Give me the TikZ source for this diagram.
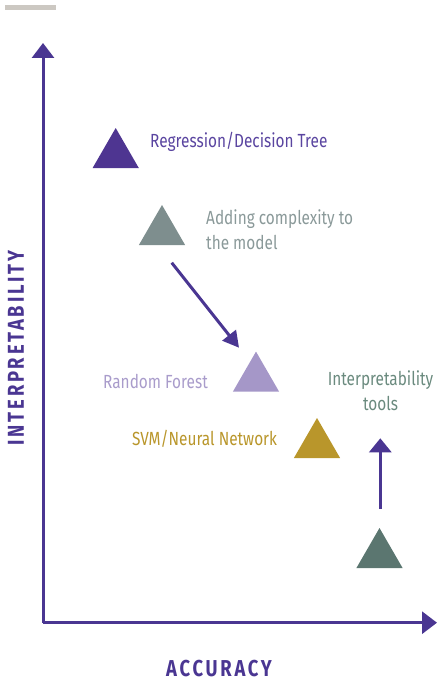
\documentclass[tikz,border=0pt]{standalone}
\usepackage{fontspec}
\setmainfont{Fira Sans}[FakeStretch=0.81]
\newfontfamily\axisfont{Fira Sans}[FakeStretch=0.8, LetterSpace=12]
\usetikzlibrary{arrows.meta,shapes.geometric}

\definecolor{axispurple}{HTML}{4A3692}
\definecolor{regpurple}{HTML}{4E3591}
\definecolor{regtext}{HTML}{5A45A0}
\definecolor{complexgray}{HTML}{7E8E8E}
\definecolor{complextext}{HTML}{8A9999}
\definecolor{forestlav}{HTML}{A597C8}
\definecolor{forestext}{HTML}{A99CCB}
\definecolor{svmgold}{HTML}{B9962B}
\definecolor{toolteal}{HTML}{5B7670}
\definecolor{tooltext}{HTML}{6A8A7E}
\definecolor{barstone}{HTML}{CCC8C2}

\begin{document}
\begin{tikzpicture}[x=1pt, y=-1pt,
  tri/.style={regular polygon, regular polygon sides=3, minimum size=53.4pt,
              inner sep=0pt, draw=none},
  label/.style={font=\fontsize{19}{25}\selectfont, inner sep=0pt},
  axislabel/.style={font=\axisfont\bfseries\fontsize{23}{26}\selectfont,
              text=axispurple, inner sep=0pt},
  axisline/.style={draw=axispurple, line width=3pt,
              -{Triangle[length=15pt, width=22pt]}},
  steparrow/.style={draw=axispurple, line width=3pt,
              -{Triangle[length=14pt, width=22pt]}},
  diagarrow/.style={draw=axispurple, line width=3pt,
              -{Triangle[length=16pt, width=17pt]}}]

\useasboundingbox (0,0) rectangle (438,682);

% small bar in the corner
\fill[barstone] (5,5) rectangle (56,10);

% axes
\coordinate (origin) at (43,622.7);
\coordinate (ytip) at (43,43);
\coordinate (xtip) at (437,622.7);
\draw[axisline] (origin) -- (ytip);
\draw[axisline] (origin) -- (xtip);

\node[axislabel, rotate=90] (ylab) at (16,348) {INTERPRETABILITY};
\node[axislabel] (xlab) at (219,669) {ACCURACY};

% models
\node[tri, fill=regpurple] (reg) at (115.7,154.7) {};
\node[tri, fill=complexgray] (cplx) at (162,231.7) {};
\node[tri, fill=forestlav] (forest) at (256,378.3) {};
\node[tri, fill=svmgold] (svm) at (317,444.7) {};
\node[tri, fill=toolteal] (tools) at (379.5,554.7) {};

\node[label, text=regtext, anchor=west] (regtxt) at (150,142) {Regression/Decision Tree};
\node[label, text=complextext, anchor=west, align=left] (cplxtxt) at (206,229.5)
  {Adding complexity to\\the model};
\node[label, text=forestext, anchor=west] (foresttxt) at (103,381) {Random Forest};
\node[label, text=svmgold, anchor=west] (svmtxt) at (132,439) {SVM/Neural Network};
\node[label, text=tooltext, align=center] (toolstxt) at (380.5,390.5)
  {Interpretability\\tools};

% arrows
\coordinate (a1s) at (171.7,262.7);
\coordinate (a1e) at (239,347.7);
\draw[diagarrow] (a1s) -- (a1e);

\coordinate (a2s) at (380.3,509);
\coordinate (a2e) at (380.3,438.3);
\draw[steparrow] (a2s) -- (a2e);
\end{tikzpicture}
\end{document}
